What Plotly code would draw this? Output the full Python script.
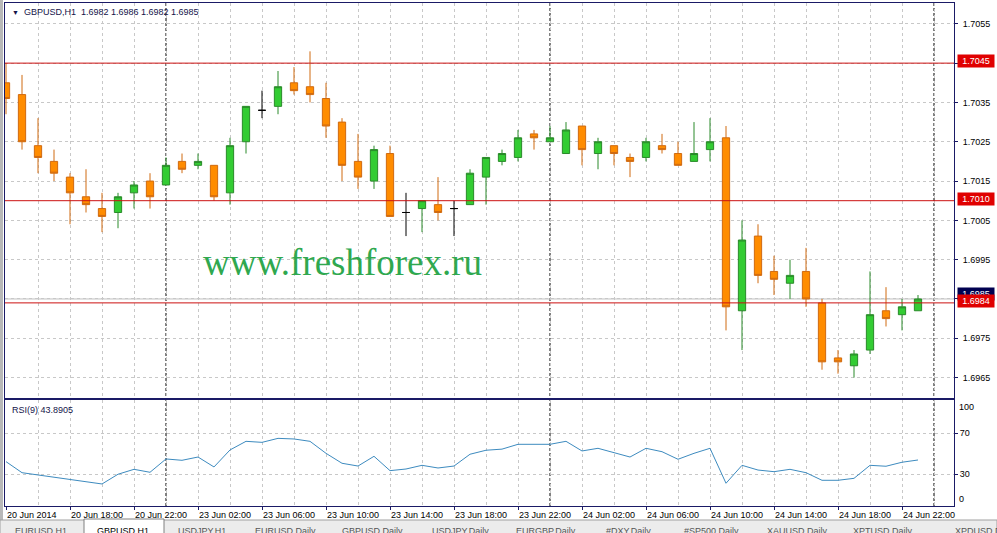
import plotly.graph_objects as go

# GBPUSD H1 bars, 20 Jun 2014 14:00 .. 24 Jun 2014 23:00
opens = [1.7040, 1.7037, 1.7024, 1.7020, 1.7016, 1.7011, 1.7008, 1.7007, 1.7012, 1.7015,
         1.7014, 1.7020, 1.7019, 1.7019, 1.7012, 1.7025, 1.7033, 1.7034, 1.7040, 1.7039,
         1.7036, 1.7030, 1.7020, 1.7015, 1.7022, 1.7007, 1.7008, 1.7009, 1.7008, 1.7009,
         1.7016, 1.7020, 1.7021, 1.7027, 1.7025, 1.7022, 1.7029, 1.7022, 1.7024, 1.7021,
         1.7021, 1.7024, 1.7022, 1.7020, 1.7023, 1.7026, 1.6982, 1.7001, 1.6992, 1.6989,
         1.6992, 1.6984, 1.6970, 1.6968, 1.6972, 1.6982, 1.6981, 1.6982]
highs = [1.7045, 1.7042, 1.7031, 1.7023, 1.7017, 1.7018, 1.7012, 1.7012, 1.7015, 1.7017,
         1.7021, 1.7022, 1.7022, 1.7019, 1.7026, 1.7034, 1.7038, 1.7043, 1.7044, 1.7048,
         1.7040, 1.7031, 1.7027, 1.7024, 1.7024, 1.7012, 1.7010, 1.7016, 1.7010, 1.7018,
         1.7021, 1.7023, 1.7028, 1.7028, 1.7029, 1.7030, 1.7029, 1.7026, 1.7024, 1.7022,
         1.7026, 1.7027, 1.7025, 1.7030, 1.7031, 1.7029, 1.7005, 1.7004, 1.6996, 1.6995,
         1.6998, 1.6985, 1.6972, 1.6972, 1.6992, 1.6988, 1.6985, 1.6986]
lows = [1.7032, 1.7023, 1.7017, 1.7015, 1.7004, 1.7007, 1.7002, 1.7003, 1.7008, 1.7008,
        1.7014, 1.7017, 1.7018, 1.7010, 1.7009, 1.7022, 1.7031, 1.7032, 1.7037, 1.7035,
        1.7026, 1.7015, 1.7013, 1.7013, 1.7006, 1.7001, 1.7002, 1.7005, 1.7001, 1.7009,
        1.7009, 1.7019, 1.7020, 1.7023, 1.7025, 1.7022, 1.7019, 1.7018, 1.7019, 1.7016,
        1.7020, 1.7022, 1.7019, 1.7020, 1.7020, 1.6977, 1.6972, 1.6989, 1.6986, 1.6985,
        1.6983, 1.6967, 1.6966, 1.6965, 1.6971, 1.6978, 1.6977, 1.6982]
closes = [1.7036, 1.7025, 1.7021, 1.7017, 1.7012, 1.7009, 1.7006, 1.7011, 1.7014, 1.7011,
          1.7019, 1.7018, 1.7020, 1.7011, 1.7024, 1.7034, 1.7033, 1.7039, 1.7038, 1.7037,
          1.7029, 1.7019, 1.7016, 1.7023, 1.7006, 1.7007, 1.7010, 1.7007, 1.7008, 1.7017,
          1.7021, 1.7022, 1.7026, 1.7026, 1.7026, 1.7028, 1.7023, 1.7025, 1.7022, 1.7020,
          1.7025, 1.7023, 1.7019, 1.7022, 1.7025, 1.6983, 1.7000, 1.6991, 1.6990, 1.6991,
          1.6985, 1.6969, 1.6969, 1.6971, 1.6981, 1.6980, 1.6983, 1.6985]

rsi9 = [42.3, 31.5, 29.3, 27.0, 24.4, 22.4, 20.5, 30.0, 34.8, 31.9,
        44.9, 43.6, 46.8, 37.1, 53.7, 62.1, 61.1, 65.0, 64.4, 62.1,
        50.4, 40.7, 38.0, 47.5, 33.5, 35.1, 38.7, 36.1, 38.0, 49.5,
        53.4, 54.5, 59.2, 59.2, 59.2, 62.1, 52.7, 55.3, 51.4, 46.8,
        55.3, 52.0, 44.6, 50.4, 55.3, 21.2, 38.7, 34.1, 32.5, 34.8,
        31.5, 24.1, 24.1, 26.0, 38.7, 37.8, 41.7, 43.8905]

bars = list(range(len(opens)))

time_tick_bars = [0, 4, 8, 12, 16, 20, 24, 28, 32, 36, 40, 44, 48, 52, 56]
time_labels = ["20 Jun 2014", "20 Jun 18:00", "20 Jun 22:00", "23 Jun 02:00", "23 Jun 06:00",
               "23 Jun 10:00", "23 Jun 14:00", "23 Jun 18:00", "23 Jun 22:00", "24 Jun 02:00",
               "24 Jun 06:00", "24 Jun 10:00", "24 Jun 14:00", "24 Jun 18:00", "24 Jun 22:00"]
day_breaks = [10, 34, 58]

price_ticks = [1.6965, 1.6975, 1.6985, 1.6995, 1.7005, 1.7015, 1.7025, 1.7035, 1.7045, 1.7055]
price_labels = ["1.6965", "1.6975", "", "1.6995", "1.7005", "1.7015", "1.7025", "1.7035", "", "1.7055"]
level_lines = [1.7045, 1.7010, 1.6984]
bid = 1.6985

tab_names = ["EURUSD,H1", "GBPUSD,H1", "USDJPY,H1", "EURUSD,Daily", "GBPUSD,Daily",
             "USDJPY,Daily", "EURGBP,Daily", "#DXY,Daily", "#SP500,Daily", "XAUUSD,Daily",
             "XPTUSD,Daily", "XPDUSD,Daily"]
tab_centers = [41, 123, 202, 285, 372, 460, 546, 628, 711, 797, 883, 985]

NAVY = "#1a1a66"
GRID = "#c8c8c8"
FONT = "Liberation Sans"
W_PLOT = 949.0  # plot width in px, used to place things in the margins

fig = go.Figure()

normal = [i for i in bars if opens[i] != closes[i]]
doji = [i for i in bars if opens[i] == closes[i]]

fig.add_trace(go.Candlestick(
    x=[bars[i] for i in normal],
    open=[opens[i] for i in normal], high=[highs[i] for i in normal],
    low=[lows[i] for i in normal], close=[closes[i] for i in normal],
    increasing=dict(line=dict(color="#2a8a2a", width=1), fillcolor="#33cc33"),
    decreasing=dict(line=dict(color="#d06a10", width=1), fillcolor="#ff8c00"),
    showlegend=False, xaxis="x", yaxis="y"))
fig.add_trace(go.Candlestick(
    x=[bars[i] for i in doji],
    open=[opens[i] for i in doji], high=[highs[i] for i in doji],
    low=[lows[i] for i in doji], close=[closes[i] for i in doji],
    increasing=dict(line=dict(color="black", width=1), fillcolor="black"),
    decreasing=dict(line=dict(color="black", width=1), fillcolor="black"),
    showlegend=False, xaxis="x", yaxis="y"))

fig.add_trace(go.Scatter(x=bars, y=rsi9, mode="lines", line=dict(color="#3d8bbf", width=1),
                         showlegend=False, xaxis="x2", yaxis="y2"))

xcommon = dict(range=[-0.0625, 59.25], tickmode="array", tickvals=time_tick_bars,
               ticktext=time_labels, showgrid=True, gridcolor=GRID, griddash="3px,3px",
               minor=dict(tick0=0, dtick=2, showgrid=True, gridcolor=GRID, griddash="3px,3px"),
               showline=True, linecolor=NAVY, mirror=True, zeroline=False,
               rangeslider=dict(visible=False), fixedrange=True)

fig.update_layout(
    width=997, height=533,
    margin=dict(l=5, r=43, t=3, b=27),
    paper_bgcolor="white", plot_bgcolor="white",
    boxgap=0.35,
    font=dict(family=FONT, size=9, color="black"),
    xaxis=dict(**xcommon, domain=[0, 1], anchor="y", showticklabels=False, ticks=""),
    yaxis=dict(domain=[0.2147, 1], range=[1.69598, 1.70603], side="right",
               tickmode="array", tickvals=price_ticks, ticktext=price_labels,
               ticks="outside", ticklen=3, tickcolor=NAVY, ticklabelstandoff=3,
               showgrid=True, gridcolor=GRID, griddash="3px,3px",
               showline=True, linecolor=NAVY, mirror=True, zeroline=False, fixedrange=True),
    xaxis2=dict(**xcommon, domain=[0, 1], anchor="y2", matches="x", ticks="outside",
                ticklen=3, tickcolor=NAVY, ticklabelposition="outside right",
                tickfont=dict(size=9, color="black")),
    yaxis2=dict(domain=[0, 0.2107], range=[-0.98, 102.4], side="right",
                tickmode="array", tickvals=[30, 70], ticktext=["30", "70"],
                ticks="outside", ticklen=3, tickcolor=NAVY, ticklabelstandoff=0,
                showgrid=True, gridcolor=GRID, griddash="3px,3px",
                showline=True, linecolor=NAVY, mirror=True, zeroline=False, fixedrange=True),
)

shapes = []
for b in day_breaks:
    shapes.append(dict(type="line", xref="x", yref="paper", x0=b, x1=b, y0=0, y1=1,
                       line=dict(color="black", width=1, dash="3px,2px"), layer="below"))
shapes.append(dict(type="line", xref="paper", yref="y", x0=0, x1=1, y0=bid, y1=bid,
                   line=dict(color="#c0c0c0", width=1), layer="below"))
for lv in level_lines:
    shapes.append(dict(type="line", xref="paper", yref="y", x0=0, x1=1, y0=lv, y1=lv,
                       line=dict(color="#cc1010", width=1)))
# left window strip and terminal tab bar
shapes.append(dict(type="rect", xref="paper", yref="paper", x0=-5 / W_PLOT, x1=-2 / W_PLOT,
                   y0=-14 / 503, y1=1 + 3 / 503, fillcolor="#b8b8b8", line_width=0))
shapes.append(dict(type="rect", xref="paper", yref="paper", x0=-5 / W_PLOT, x1=992 / W_PLOT,
                   y0=-30 / 503, y1=-14 / 503, fillcolor="#ececec",
                   line=dict(color="#a0a0a0", width=1)))
shapes.append(dict(type="rect", xref="paper", yref="paper", x0=79 / W_PLOT, x1=159 / W_PLOT,
                   y0=-30 / 503, y1=-13 / 503, fillcolor="white",
                   line=dict(color="#808080", width=1)))
fig.update_layout(shapes=shapes)

ann = []
ann.append(dict(xref="paper", yref="paper", x=0, y=1, xanchor="left", yanchor="middle",
                xshift=5, yshift=-9, showarrow=False,
                text="<span style='font-size:7px'>▼</span>  GBPUSD,H1  1.6982 1.6986 1.6982 1.6985",
                font=dict(family=FONT, size=9, color="#14144a")))
ann.append(dict(xref="paper", yref="paper", x=0, y=0.2107, xanchor="left", yanchor="middle",
                xshift=5, yshift=-10, showarrow=False, text="RSI(9) 43.8905",
                font=dict(family=FONT, size=9, color="#14144a")))
ann.append(dict(xref="paper", yref="paper", x=0.3556, y=0.485, xanchor="center",
                yanchor="middle", showarrow=False, text="www.freshforex.ru",
                font=dict(family="Liberation Serif", size=37, color="#2fa84f")))
ann.append(dict(xref="paper", yref="y", x=1, y=bid, xanchor="left", yanchor="middle",
                xshift=3, yshift=5, showarrow=False, text="1.6985", bgcolor="#000050",
                width=34, height=10, font=dict(family=FONT, size=9, color="white")))
for lv in level_lines:
    ann.append(dict(xref="paper", yref="y", x=1, y=lv, xanchor="left", yanchor="middle",
                    xshift=3, yshift=2, showarrow=False, text=f"{lv:.4f}", bgcolor="#e00000",
                    width=34, height=10, font=dict(family=FONT, size=9, color="white")))
ann.append(dict(xref="paper", yref="y2", x=1, y=100, xanchor="left", yanchor="middle",
                xshift=3, yshift=-5, showarrow=False, text="100", font=dict(size=9)))
ann.append(dict(xref="paper", yref="y2", x=1, y=0, xanchor="left", yanchor="middle",
                xshift=3, yshift=6, showarrow=False, text="0", font=dict(size=9)))
for name, cx in zip(tab_names, tab_centers):
    ann.append(dict(xref="paper", yref="paper", x=(cx - 5) / W_PLOT, y=0, xanchor="center",
                    yanchor="middle", yshift=-25, showarrow=False, text=name,
                    font=dict(family=FONT, size=9,
                              color="black" if name == "GBPUSD,H1" else "#555555")))
fig.update_layout(annotations=ann)

# the page's default 8px body margin would push the chart off the window
fig.write_html("out.html", config={"displayModeBar": False},
               post_script="document.body.style.margin='0';")
